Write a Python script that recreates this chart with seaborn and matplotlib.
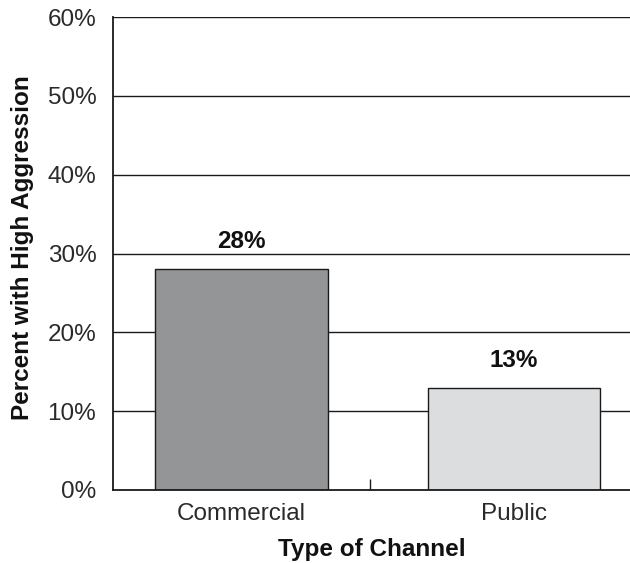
import matplotlib
matplotlib.use("Agg")
import matplotlib.pyplot as plt
import seaborn as sns
import pandas as pd
from matplotlib.ticker import FuncFormatter

channels = ["Commercial", "Public"]
high_aggression = [28, 13]
bar_colors = ["#939598", "#dcdddf"]
y_ticks = [0, 10, 20, 30, 40, 50, 60]

df = pd.DataFrame({"channel": channels, "pct": high_aggression})

sns.set_theme(style="white")
plt.rcParams["font.family"] = ["Liberation Sans", "DejaVu Sans"]

fig = plt.figure(figsize=(6.3, 5.63), dpi=100)
ax = fig.add_axes([113 / 630, 1 - 490 / 563, 1 - 113 / 630, (490 - 17) / 563])

# horizontal reference lines behind the bars
for y in y_ticks[1:]:
    ax.axhline(y, color="#1a1a1a", linewidth=1.0, zorder=0)

sns.barplot(data=df, x="channel", y="pct", hue="channel", palette=bar_colors,
            legend=False, width=0.633, edgecolor="#1a1a1a", linewidth=1.0,
            ax=ax, zorder=2)

for i, v in enumerate(high_aggression):
    ax.annotate(f"{v}%", xy=(i, v), xytext=(0, 15), textcoords="offset points",
                ha="center", va="baseline", fontsize=17.5, fontweight="bold",
                color="#111111")

ax.set_ylim(0, 60)
ax.set_xlim(-0.472, 1.426)
ax.set_yticks(y_ticks)
ax.yaxis.set_major_formatter(FuncFormatter(lambda v, p: f"{v:.0f}%"))
ax.set_xticks([0, 1])
ax.set_xticklabels(channels)
ax.set_xticks([0.47], minor=True)

ax.tick_params(axis="y", length=0, pad=12, labelsize=17.5, labelcolor="#2a2a2a")
ax.tick_params(axis="x", which="major", bottom=True, length=0, pad=9,
               labelsize=17.5, labelcolor="#2a2a2a")
ax.tick_params(axis="x", which="minor", bottom=True, direction="in", length=8,
               width=1.0, color="#1a1a1a")

for side in ["top", "right"]:
    ax.spines[side].set_visible(False)
for side in ["left", "bottom"]:
    ax.spines[side].set_color("#1a1a1a")
    ax.spines[side].set_linewidth(1.3)

ax.set_xlabel("Type of Channel", fontsize=17.5, fontweight="bold", labelpad=10,
              color="#111111")
ax.set_ylabel("Percent with High Aggression", fontsize=17.5, fontweight="bold",
              color="#111111")
ax.yaxis.set_label_coords(-0.152, 0.513)
ax.grid(False)

fig.savefig("out.png", dpi=100)
